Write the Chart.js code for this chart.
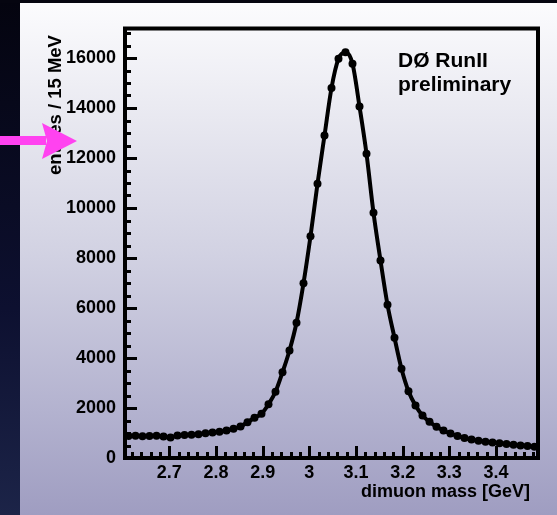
<!DOCTYPE html>
<html>
<head>
<meta charset="utf-8">
<script src="https://cdn.jsdelivr.net/npm/chart.js@4.4.0/dist/chart.umd.min.js"></script>
<style>
  html, body { margin: 0; padding: 0; background: #0b0b22; }
  #wrap { width: 557px; height: 515px; }
</style>
</head>
<body>
<div id="wrap"><canvas id="massChart" width="557" height="515"></canvas></div>
<script>
// dimuon invariant mass, 15 MeV bins (bin centres in GeV)
const binCenters = [
  2.6125, 2.6275, 2.6425, 2.6575, 2.6725, 2.6875, 2.7025, 2.7175, 2.7325, 2.7475,
  2.7625, 2.7775, 2.7925, 2.8075, 2.8225, 2.8375, 2.8525, 2.8675, 2.8825, 2.8975,
  2.9125, 2.9275, 2.9425, 2.9575, 2.9725, 2.9875, 3.0025, 3.0175, 3.0325, 3.0475,
  3.0625, 3.0775, 3.0925, 3.1075, 3.1225, 3.1375, 3.1525, 3.1675, 3.1825, 3.1975,
  3.2125, 3.2275, 3.2425, 3.2575, 3.2725, 3.2875, 3.3025, 3.3175, 3.3325, 3.3475,
  3.3625, 3.3775, 3.3925, 3.4075, 3.4225, 3.4375, 3.4525, 3.4675, 3.4825
];
const entries = [
  880, 890, 870, 880, 890, 860, 820, 900, 920, 930,
  950, 990, 1020, 1050, 1100, 1170, 1260, 1430, 1610, 1770,
  2150, 2650, 3430, 4300, 5410, 6990, 8870, 10970, 12900, 14800,
  15970, 16230, 15770, 14060, 12170, 9810, 7900, 6130, 4810, 3570,
  2670, 2100, 1700, 1450, 1250, 1100, 980, 880, 800, 740,
  690, 650, 620, 590, 560, 530, 500, 480, 450
];
const xTicks = [2.7, 2.8, 2.9, 3, 3.1, 3.2, 3.3, 3.4];
const yTicks = [0, 2000, 4000, 6000, 8000, 10000, 12000, 14000, 16000];

const FONT = "'Liberation Sans', Arial, sans-serif";

const points = binCenters.map((m, i) => ({ x: m, y: entries[i] }));

// background panel, frame with inward ticks, titles and the pink arrow
const decor = {
  id: 'decor',
  beforeDraw(chart) {
    const c = chart.ctx;
    const W = chart.width, H = chart.height;
    c.save();
    const g = c.createLinearGradient(0, 0, 0, H);
    g.addColorStop(0, '#fcfcfe');
    g.addColorStop(0.2, '#ebebf2');
    g.addColorStop(0.5, '#d1d1e2');
    g.addColorStop(0.8, '#b3b2cf');
    g.addColorStop(1, '#9f9dc1');
    c.fillStyle = g;
    c.fillRect(0, 0, W, H);
    const s = c.createLinearGradient(0, 0, 0, H);
    s.addColorStop(0, '#04040f');
    s.addColorStop(0.6, '#0d1030');
    s.addColorStop(1, '#1c2448');
    c.fillStyle = s;
    c.fillRect(0, 0, 20, H);
    c.fillStyle = '#050510';
    c.fillRect(0, 0, W, 3);
    c.restore();
  },
  afterDraw(chart) {
    const c = chart.ctx;
    const a = chart.chartArea;
    const xs = chart.scales.x, ys = chart.scales.y;
    c.save();
    c.strokeStyle = '#000';
    c.fillStyle = '#000';

    // y ticks: major every 2000, minor every 500
    c.lineWidth = 3;
    for (let v = 0; v <= 17000; v += 500) {
      const y = Math.round(ys.getPixelForValue(v)) + 0.5;
      const len = v % 2000 === 0 ? 12 : 6;
      c.beginPath();
      c.moveTo(a.left, y);
      c.lineTo(a.left + len, y);
      c.stroke();
    }
    // x ticks: major every 0.1, minor every 0.02
    for (let k = 131; k <= 174; k++) {
      const v = k / 50;
      const x = Math.round(xs.getPixelForValue(v)) + 0.5;
      const len = k % 5 === 0 ? 12 : 6;
      c.beginPath();
      c.moveTo(x, a.bottom);
      c.lineTo(x, a.bottom - len);
      c.stroke();
    }

    // frame
    c.lineWidth = 4;
    c.strokeRect(a.left, a.top, a.right - a.left, a.bottom - a.top);

    // labels
    c.font = 'bold 18px ' + FONT;
    c.textAlign = 'right';
    c.textBaseline = 'alphabetic';
    c.fillText('dimuon mass [GeV]', 530, 497);

    c.font = 'bold 21px ' + FONT;
    c.textAlign = 'left';
    c.fillText('DØ RunII', 398, 67);
    c.fillText('preliminary', 398, 91);

    c.save();
    c.translate(61, 105);
    c.rotate(-Math.PI / 2);
    c.font = 'bold 18.5px ' + FONT;
    c.textAlign = 'center';
    c.fillText('entries / 15 MeV', 0, 0);
    c.restore();

    // arrow
    c.fillStyle = '#ff42f0';
    c.fillRect(0, 136, 46, 9);
    c.beginPath();
    c.moveTo(42, 123);
    c.lineTo(77, 141);
    c.lineTo(42, 159);
    c.lineTo(47, 141);
    c.closePath();
    c.fill();
    c.restore();
  }
};

const ctx = document.getElementById('massChart').getContext('2d');
const massChart = new Chart(ctx, {
  type: 'line',
  data: {
    datasets: [{
      data: points,
      borderColor: '#000',
      backgroundColor: '#000',
      borderWidth: 4,
      cubicInterpolationMode: 'monotone',
      pointRadius: 4,
      pointBorderWidth: 0,
      fill: false
    }]
  },
  options: {
    responsive: false,
    animation: false,
    layout: { padding: { top: 28.5, right: 19, left: 0, bottom: 0 } },
    plugins: { legend: { display: false }, tooltip: { enabled: false } },
    scales: {
      x: {
        type: 'linear',
        min: 2.605,
        max: 3.49,
        afterBuildTicks: s => { s.ticks = xTicks.map(v => ({ value: v })); },
        afterFit: s => { s.height = 57; },
        grid: { display: false, drawTicks: false },
        border: { display: false },
        ticks: {
          color: '#000',
          font: { family: FONT, size: 18, weight: 'bold' },
          padding: 4,
          maxRotation: 0,
          autoSkip: false,
          callback: v => String(v)
        }
      },
      y: {
        type: 'linear',
        min: 0,
        max: 17180,
        afterBuildTicks: s => { s.ticks = yTicks.map(v => ({ value: v })); },
        afterFit: s => { s.width = 125; },
        grid: { display: false, drawTicks: false },
        border: { display: false },
        ticks: {
          color: '#000',
          font: { family: FONT, size: 18, weight: 'bold' },
          padding: 9,
          autoSkip: false,
          callback: v => String(v)
        }
      }
    }
  },
  plugins: [decor]
});
</script>
</body>
</html>
